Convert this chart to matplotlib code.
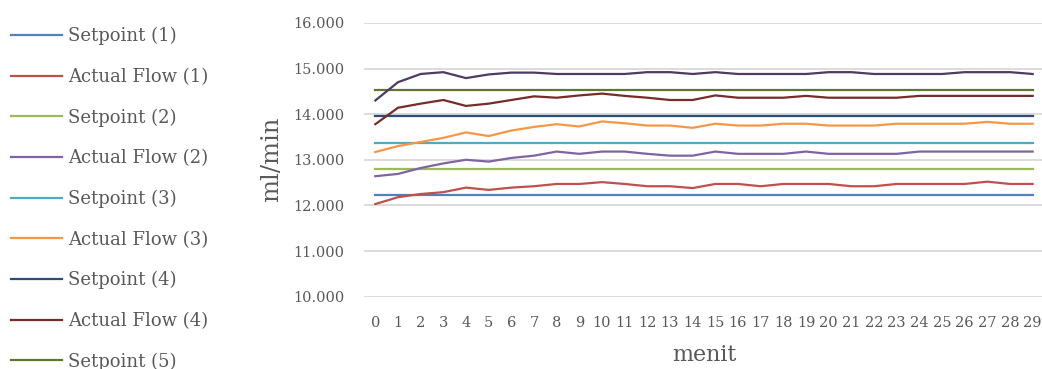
import numpy as np
import matplotlib
matplotlib.use("Agg")
import matplotlib.pyplot as plt

plt.rcParams["font.family"] = ["DejaVu Serif"]

minutes = list(range(30))

setpoint_1 = 12.22
setpoint_2 = 12.79
setpoint_3 = 13.36
setpoint_4 = 13.95
setpoint_5 = 14.52

actual_1 = [12.03, 12.18, 12.25, 12.29, 12.39, 12.34, 12.39, 12.42, 12.47, 12.47,
            12.51, 12.47, 12.42, 12.42, 12.38, 12.47, 12.47, 12.42, 12.47, 12.47,
            12.47, 12.42, 12.42, 12.47, 12.47, 12.47, 12.47, 12.52, 12.47, 12.47]
actual_2 = [12.64, 12.69, 12.82, 12.92, 13.00, 12.96, 13.04, 13.09, 13.18, 13.13,
            13.18, 13.18, 13.13, 13.09, 13.09, 13.18, 13.13, 13.13, 13.13, 13.18,
            13.13, 13.13, 13.13, 13.13, 13.18, 13.18, 13.18, 13.18, 13.18, 13.18]
actual_3 = [13.17, 13.30, 13.39, 13.48, 13.60, 13.52, 13.64, 13.72, 13.78, 13.73,
            13.84, 13.80, 13.75, 13.75, 13.70, 13.79, 13.75, 13.75, 13.79, 13.79,
            13.75, 13.75, 13.75, 13.79, 13.79, 13.79, 13.79, 13.83, 13.79, 13.79]
actual_4 = [13.78, 14.14, 14.23, 14.31, 14.18, 14.23, 14.31, 14.39, 14.36, 14.41,
            14.45, 14.40, 14.36, 14.31, 14.31, 14.41, 14.36, 14.36, 14.36, 14.40,
            14.36, 14.36, 14.36, 14.36, 14.40, 14.40, 14.40, 14.40, 14.40, 14.40]
actual_5 = [14.30, 14.70, 14.88, 14.92, 14.79, 14.87, 14.91, 14.91, 14.88, 14.88,
            14.88, 14.88, 14.92, 14.92, 14.88, 14.92, 14.88, 14.88, 14.88, 14.88,
            14.92, 14.92, 14.88, 14.88, 14.88, 14.88, 14.92, 14.92, 14.92, 14.88]

labels = ["Setpoint (1)", "Actual Flow (1)", "Setpoint (2)", "Actual Flow (2)",
          "Setpoint (3)", "Actual Flow (3)", "Setpoint (4)", "Actual Flow (4)",
          "Setpoint (5)", "Actual Flow (5)"]
colors = ["#4F81BD", "#C0504D", "#9BBB59", "#8064A2", "#4BACC6",
          "#F79646", "#2C4D75", "#772C2A", "#5F7530", "#4D3B62"]

series = [[setpoint_1] * 30, actual_1, [setpoint_2] * 30, actual_2,
          [setpoint_3] * 30, actual_3, [setpoint_4] * 30, actual_4,
          [setpoint_5] * 30, actual_5]

text_col = "#595959"

fig = plt.figure(figsize=(10.42, 3.69), dpi=100)
ax = fig.add_axes([364 / 1042, 0.196, 680 / 1042, 0.742])

handles = []
for ys, c, lab in zip(series, colors, labels):
    h, = ax.plot(minutes, ys, color=c, lw=1.6, label=lab, zorder=3)
    handles.append(h)

ax.set_xlim(-0.5, 29.5)
ax.set_ylim(10, 16)
ax.set_yticks(np.arange(10, 16.5, 1))
ax.set_yticklabels([f"{v:.3f}" for v in np.arange(10, 16.5, 1)])
ax.set_xticks(minutes)
ax.set_xticklabels([str(m) for m in minutes])
ax.grid(axis="y", color="#D9D9D9", lw=1.3, zorder=0)
ax.set_axisbelow(True)
for s in ax.spines.values():
    s.set_visible(False)
ax.tick_params(length=0, colors=text_col, labelsize=10.5)
ax.tick_params(axis="x", pad=14)
ax.tick_params(axis="y", pad=14)
ax.set_xlabel("menit", fontsize=16, color=text_col, labelpad=10)
ax.set_ylabel("ml/min", fontsize=17.5, color=text_col, labelpad=7)

# the legend runs off the bottom edge, as in the original
fig.legend(handles=handles, loc="upper left", bbox_to_anchor=(11 / 1042, 1 - 27 / 369),
           frameon=False, fontsize=13, handlelength=2.8, handletextpad=0.35,
           labelspacing=1.25, borderpad=0, borderaxespad=0, labelcolor=text_col)

fig.savefig("out.png", dpi=100)
